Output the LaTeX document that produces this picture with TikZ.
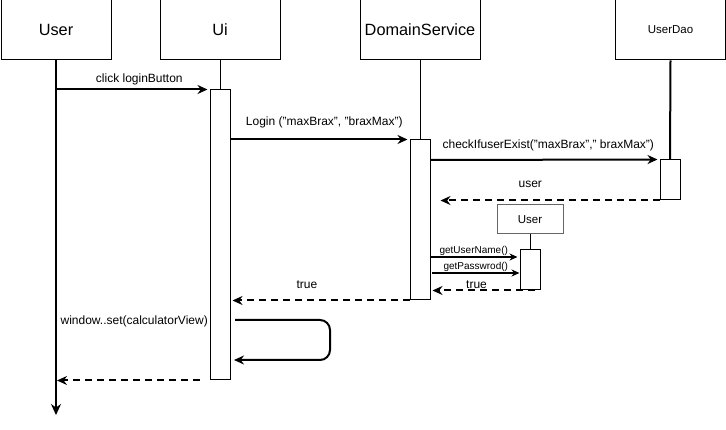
\documentclass[tikz,border=0pt]{standalone}
\usepackage{fontspec}
\setmainfont{Liberation Sans}
\usetikzlibrary{arrows.meta,calc}
\begin{document}
\begin{tikzpicture}[x=1pt,y=-1pt,
  hdr/.style={draw, line width=1pt, minimum width=110pt, minimum height=60pt, inner sep=0pt, font=\fontsize{16.3}{19}\selectfont},
  act/.style={draw, line width=1pt, fill=white, minimum width=20pt, inner sep=0pt},
  life/.style={line width=1pt},
  msg/.style={line width=2pt, -{Stealth[length=10pt,width=9pt]}},
  small/.style={line width=1.2pt, -{Stealth[length=8pt,width=7pt]}},
  ret/.style={line width=2pt, dash pattern=on 7pt off 5pt, -{Stealth[length=10pt,width=9pt]}},
  lbl/.style={font=\fontsize{12}{14}\selectfont, inner sep=1pt},
  slbl/.style={font=\fontsize{10}{12}\selectfont, inner sep=1pt}]
\useasboundingbox (0,0) rectangle (726,430);
% headers
\node[hdr] (user) at (56,30) {User};
\node[hdr, minimum width=120pt] (ui) at (220,30) {Ui};
\node[hdr, minimum width=120pt] (ds) at (420,30) {DomainService};
\node[hdr, font=\fontsize{11.5}{13}\selectfont] (dao) at (670.5,30) {UserDao};
% lifelines
\coordinate (userend) at (56,415);
\draw[line width=2pt, -{Stealth[length=11pt,width=10pt]}] (user.south) -- (userend);
\node[act, minimum height=290pt] (uiact) at (220,235) {};
\draw[life] (ui.south) -- (uiact.north);
\node[act, minimum height=160pt] (dsact) at (420,220) {};
\draw[life] (ds.south) -- (dsact.north);
\node[act, minimum height=40pt] (daoact) at (670,180) {};
\draw[line width=2pt] (dao.south) -- (daoact.north);
\node[draw=black!60, line width=1pt, minimum width=66pt, minimum height=29pt, inner sep=0pt, font=\fontsize{11.5}{13}\selectfont] (uobj) at (530,219.5) {User};
\node[act, minimum height=40pt] (uact) at (530,270) {};
\draw[life] (uobj.south) -- (uact.north);
% click loginButton
\draw[msg] (user.south |- uiact.north) -- node[lbl, above=3pt, pos=0.55] {click loginButton} ($(uiact.north west)+(-2,0)$);
% Login
\draw[msg] (uiact.east |- dsact.north) -- node[lbl, above=10pt, pos=0.53] {Login ("maxBrax", "braxMax")} ($(dsact.north west)+(-2,0)$);
% checkIfuserExist
\coordinate (c1) at (430,160);
\draw[msg] (c1) -- node[lbl, above=7pt, pos=0.52] {checkIfuserExist("maxBrax"," braxMax")} ($(daoact.north west)+(-2,0)$);
% user return
\draw[ret] (daoact.south west) -- node[lbl, above=11pt, pos=0.59] {user} ($(dsact.east |- daoact.south)+(10,0)$);
% getUserName / getPasswrod
\coordinate (g1) at (430,257);
\draw[small] (g1) -- node[slbl, above=0pt, pos=0.5] {getUserName()} ($(uact.west |- g1)+(-2,0)$);
\coordinate (g2) at (432,273);
\draw[small] (g2) -- node[slbl, above=0pt, pos=0.5] {getPasswrod()} ($(uact.west |- g2)+(0,0)$);
% true from User
\draw[ret] ($(uact.south)+(5,0)$) -- node[lbl, above=0pt, pos=0.57] {true} ($(dsact.east |- uact.south)+(2,0)$);
% true from DomainService
\draw[ret] (dsact.south west) -- node[lbl, above=10pt, pos=0.58] {true} ($(uiact.east |- dsact.south)+(2,0)$);
% self message
\coordinate (s1) at (235,320);
\coordinate (s2) at (235,360);
\draw[msg, rounded corners=10pt] (s1) -- (330,320) -- (330,360) -- ($(s2)+(-1,0)$);
\node[lbl, anchor=east] (slabel) at (209,321) {window..set(calculatorView)};
% final return
\draw[ret] ($(uiact.south west)+(-10,0)$) -- ($(user.south |- uiact.south)+(1,0)$);
\end{tikzpicture}
\end{document}
